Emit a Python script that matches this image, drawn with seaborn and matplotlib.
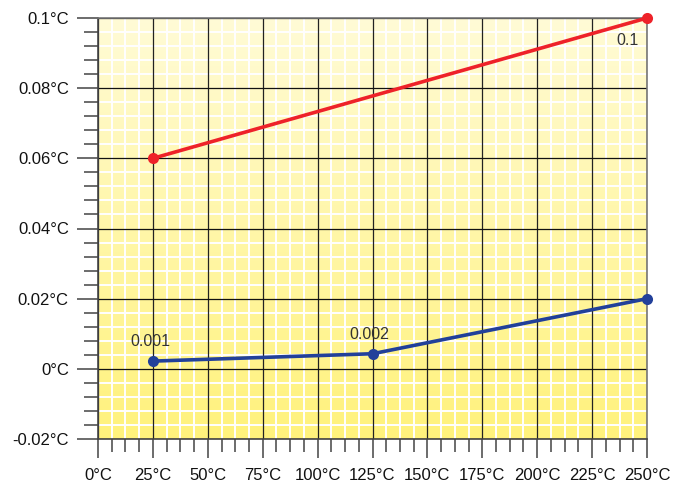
import numpy as np
import pandas as pd
import matplotlib
matplotlib.use('Agg')
import matplotlib.pyplot as plt
from matplotlib.ticker import MultipleLocator, FuncFormatter
import seaborn as sns

# values
red_x = [25, 250]
red_y = [0.06, 0.1]
blue_x = [25, 125, 250]
blue_y = [0.0022, 0.0043, 0.02]
point_labels = [(25, 0.0022, '0.001'), (125, 0.0043, '0.002'), (250, 0.1, '0.1')]
x_ticks = [0, 25, 50, 75, 100, 125, 150, 175, 200, 225, 250]
y_ticks = [-0.02, 0, 0.02, 0.04, 0.06, 0.08, 0.1]

data = pd.concat([
    pd.DataFrame({'temp': red_x, 'value': red_y, 'series': 'red'}),
    pd.DataFrame({'temp': blue_x, 'value': blue_y, 'series': 'blue'}),
])

sns.set_style('white')
plt.rcParams['font.family'] = ['Liberation Sans', 'DejaVu Sans']

fig = plt.figure(figsize=(6.85, 4.87), dpi=100)
ax = fig.add_axes([98 / 685, 1 - 439 / 487, 549 / 685, 421 / 487])

# yellow gradient background, light at top
grad = np.linspace(0, 1, 256).reshape(-1, 1)
cmap = matplotlib.colors.LinearSegmentedColormap.from_list('yel', ['#fff27c', '#fffbd6'])
ax.imshow(grad, cmap=cmap, aspect='auto', extent=[0, 1, 0, 1],
          transform=ax.transAxes, origin='lower', zorder=0)

sns.lineplot(data=data, x='temp', y='value', hue='series',
             palette={'red': '#ee2229', 'blue': '#22409a'},
             marker='o', markersize=8, markeredgewidth=0, linewidth=2.6,
             legend=False, ax=ax, zorder=5, clip_on=False)

ax.set_xlim(0, 250)
ax.set_ylim(-0.02, 0.1)
ax.set_xticks(x_ticks)
ax.set_yticks(y_ticks)
ax.xaxis.set_minor_locator(MultipleLocator(6.25))
ax.yaxis.set_minor_locator(MultipleLocator(0.004))
ax.xaxis.set_major_formatter(FuncFormatter(lambda v, p: f'{v:g}°C'))
ax.yaxis.set_major_formatter(FuncFormatter(lambda v, p: f'{v:g}°C'))

# white minor grid under black major grid
ax.grid(which='minor', color='white', linewidth=1.4)
ax.grid(which='major', visible=False)
ax.set_axisbelow(True)
for xv in x_ticks:
    ax.axvline(xv, color='#222222', linewidth=0.9, zorder=2)
for yv in y_ticks:
    ax.axhline(yv, color='#111111', linewidth=0.9, zorder=2)

ax.tick_params(which='major', direction='out', length=15, width=1.1, color='#444444',
               labelsize=12, labelcolor='#111111')
ax.tick_params(axis='x', which='major', length=14, pad=7)
ax.tick_params(axis='y', which='major', pad=6)
ax.tick_params(which='minor', direction='out', length=10, width=1.1, color='#444444')
ax.tick_params(axis='x', which='minor', length=9.5)
ax.tick_params(left=True, bottom=True, which='both')

for side in ['top', 'right']:
    ax.spines[side].set_color('#777777')
    ax.spines[side].set_linewidth(1.2)
for side in ['left', 'bottom']:
    ax.spines[side].set_color('#444444')
    ax.spines[side].set_linewidth(1.2)
for sp in ax.spines.values():
    sp.set_zorder(3)

ax.set_xlabel('')
ax.set_ylabel('')

for x, y, txt in point_labels:
    if txt == '0.1':
        ax.annotate(txt, (x, y), xytext=(-14, -16), textcoords='offset points',
                    ha='center', va='center', fontsize=11.5, color='#333333', zorder=6)
    else:
        ax.annotate(txt, (x, y), xytext=(-2, 14), textcoords='offset points',
                    ha='center', va='center', fontsize=11.5, color='#333333', zorder=6)

fig.savefig('out.png', dpi=100)
